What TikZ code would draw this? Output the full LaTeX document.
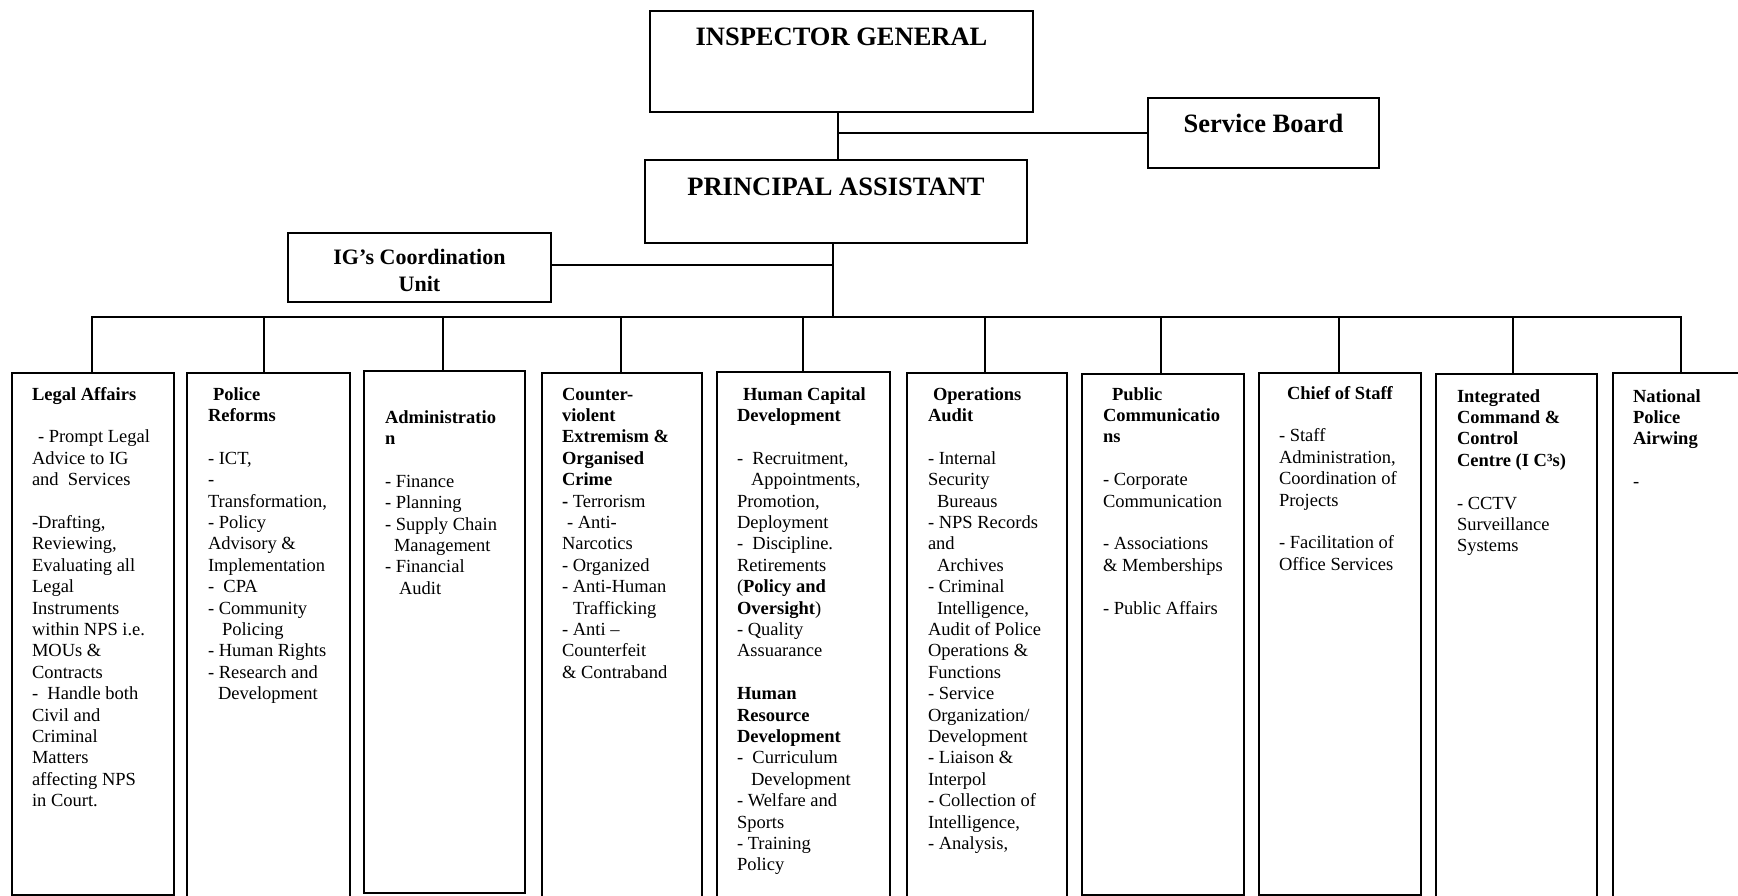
\documentclass[tikz,border=0pt]{standalone}
\usepackage{fontspec}
\setmainfont{Liberation Serif}
\newcommand\bodyfont{\fontsize{18.5}{21.4}\selectfont}
\newcommand\bigtitlefont{\fontsize{26.5}{30}\selectfont\bfseries}
\newcommand\midtitlefont{\fontsize{22}{27}\selectfont\bfseries}
\newcommand\lns[1]{\begin{tabular}[t]{@{}l@{}}#1\end{tabular}}
\newcommand\clns[1]{\begin{tabular}[t]{@{}c@{}}#1\end{tabular}}
\tikzset{
  boxnode/.style={draw, line width=1.6pt, inner sep=0pt, outer sep=0pt},
  conn/.style={line width=1.4pt},
  txt/.style={anchor=base west, inner sep=0pt, outer sep=0pt, font=\bodyfont},
  ttl/.style={anchor=base, inner sep=0pt, outer sep=0pt, font=\bigtitlefont},
}
\newcommand\ubox[5]{\node[boxnode, minimum width={(#3)-(#2)}, minimum height={(#5)-(#4)}] (#1) at ({((#2)+(#3))/2},{((#4)+(#5))/2}) {};}
\begin{document}
\begin{tikzpicture}[x=1pt,y=-1pt]
\useasboundingbox (0,0) rectangle (1738,896);
\clip (0,0) rectangle (1738,896);
% top boxes
\ubox{ig}{650}{1033}{11}{112}
\ubox{sb}{1148}{1379}{98}{168}
\ubox{pa}{645}{1027}{160}{243}
\ubox{igc}{288}{551}{233}{302}
\node[ttl] (igT) at (841.5,46) {INSPECTOR GENERAL};
\node[ttl] (sbT) at (1263.5,133) {Service Board};
\node[ttl] (paT) at (836,196) {PRINCIPAL ASSISTANT};
\node[ttl, font=\midtitlefont] (igcT) at (419.5,265) {\clns{IG’s Coordination\\Unit}};
% bottom boxes
\ubox{la}{12}{174}{373}{895}
\ubox{pr}{187}{350}{373}{905}
\ubox{ad}{364}{525}{371}{893}
\ubox{cv}{542}{702}{373}{905}
\ubox{hc}{717}{890}{372}{905}
\ubox{op}{907}{1067}{373}{905}
\ubox{pc}{1082}{1244}{374}{895}
\ubox{cs}{1259}{1421}{373}{895}
\ubox{ic}{1436}{1597}{374}{905}
\ubox{np}{1613}{1749}{373}{905}
% connectors
\coordinate (ca) at (838,0);
\coordinate (cb) at (833,0);
\coordinate (busy) at (0,317);
\coordinate (igcy) at (0,265);
\draw[conn] (ig.south -| ca) -- (pa.north -| ca);
\draw[conn] (sb.west) -- (sb.west -| ca);
\draw[conn] (pa.south -| cb) -- (busy -| cb);
\draw[conn] (igc.east |- igcy) -- (cb |- igcy);
\coordinate (busL) at (92,317);
\coordinate (busR) at (1681,317);
\draw[conn, line cap=rect] (busL) -- (busR);
\foreach \n/\x in {la/92,pr/264,ad/443,cv/621,hc/803,op/985,pc/1161,cs/1339,ic/1513,np/1681}{
  \coordinate (stub-\n) at (\x,317);
  \draw[conn] (stub-\n) -- (stub-\n |- \n.north);
}
% texts
\node[txt] (laT) at (32,400) {\lns{\textbf{Legal Affairs}\\
\\
\hspace*{6pt}- Prompt Legal\\
Advice to IG\\
and\ \ Services\\
\\
-Drafting,\\
Reviewing,\\
Evaluating all\\
Legal\\
Instruments\\
within NPS i.e.\\
MOUs \&\\
Contracts\\
-\ \ Handle both\\
Civil and\\
Criminal\\
Matters\\
affecting NPS\\
in Court.}};
\node[txt] (prT) at (208,400) {\lns{\hspace*{5pt}\textbf{Police}\\
\textbf{Reforms}\\
\\
- ICT,\\
-\\
Transformation,\\
- Policy\\
Advisory \&\\
Implementation\\
-\ \ CPA\\
- Community\\
\hspace*{14pt}Policing\\
- Human Rights\\
- Research and\\
\hspace*{10pt}Development}};
\node[txt] (adT) at (385,423) {\lns{\textbf{Administratio}\\
\textbf{n}\\
\\
- Finance\\
- Planning\\
- Supply Chain\\
\hspace*{9pt}Management\\
- Financial\\
\hspace*{14pt}Audit}};
\node[txt] (cvT) at (562,400) {\lns{\textbf{Counter-}\\
\textbf{violent}\\
\textbf{Extremism \&}\\
\textbf{Organised}\\
\textbf{Crime}\\
\textbf{-} Terrorism\\
\hspace*{5pt}- Anti-\\
Narcotics\\
- Organized\\
- Anti-Human\\
\hspace*{11pt}Trafficking\\
- Anti --\\
Counterfeit\\
\& Contraband}};
\node[txt] (hcT) at (737,400) {\lns{\hspace*{6pt}\textbf{Human Capital}\\
\textbf{Development}\\
\\
-\ \ Recruitment,\\
\hspace*{14pt}Appointments,\\
Promotion,\\
Deployment\\
-\ \ Discipline.\\
Retirements\\
(\textbf{Policy and}\\
\textbf{Oversight})\\
- Quality\\
Assuarance\\
\\
\textbf{Human}\\
\textbf{Resource}\\
\textbf{Development}\\
-\ \ Curriculum\\
\hspace*{14pt}Development\\
- Welfare and\\
Sports\\
- Training\\
Policy}};
\node[txt] (opT) at (928,400) {\lns{\hspace*{5pt}\textbf{Operations}\\
\textbf{Audit}\\
\\
- Internal\\
Security\\
\hspace*{9pt}Bureaus\\
- NPS Records\\
and\\
\hspace*{9pt}Archives\\
- Criminal\\
\hspace*{9pt}Intelligence,\\
Audit of Police\\
Operations \&\\
Functions\\
- Service\\
Organization/\\
Development\\
- Liaison \&\\
Interpol\\
- Collection of\\
Intelligence,\\
- Analysis,}};
\node[txt] (pcT) at (1103,400) {\lns{\hspace*{9pt}\textbf{Public}\\
\textbf{Communicatio}\\
\textbf{ns}\\
\\
- Corporate\\
Communication\\
\\
- Associations\\
\& Memberships\\
\\
- Public Affairs}};
\node[txt] (csT) at (1279,399) {\lns{\hspace*{8pt}\textbf{Chief of Staff}\\
\\
- Staff\\
Administration,\\
Coordination of\\
Projects\\
\\
- Facilitation of\\
Office Services}};
\node[txt] (icT) at (1457,402) {\lns{\textbf{Integrated}\\
\textbf{Command \&}\\
\textbf{Control}\\
\textbf{Centre (I C³s)}\\
\\
- CCTV\\
Surveillance\\
Systems}};
\node[txt] (npT) at (1633,402) {\lns{\textbf{National}\\
\textbf{Police}\\
\textbf{Airwing}\\
\\
-}};
\end{tikzpicture}
\end{document}
